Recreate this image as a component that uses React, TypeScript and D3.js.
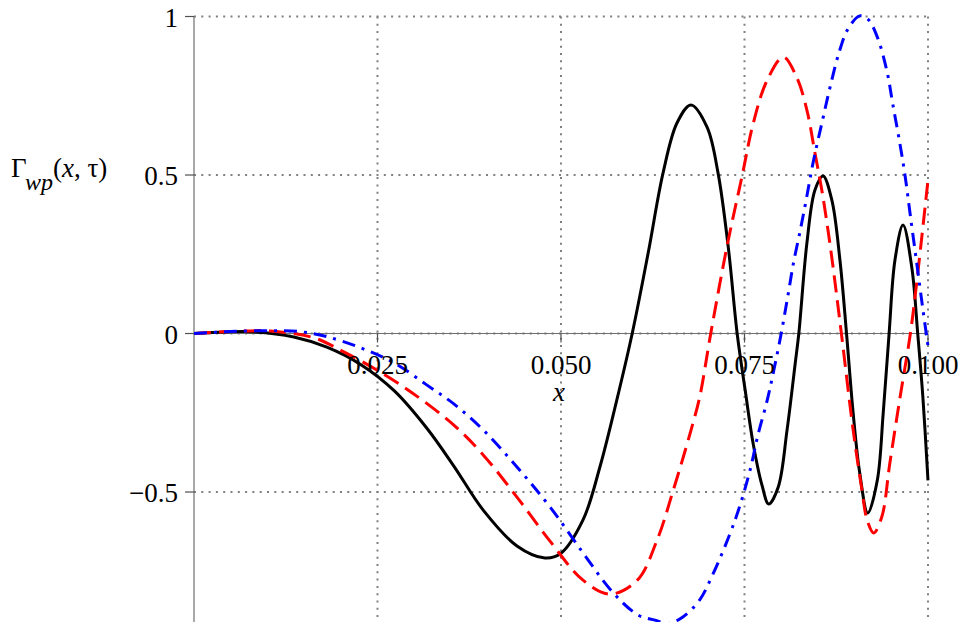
import React from 'react';
import * as d3 from 'd3';

// values
const xTicks = [0.025, 0.05, 0.075, 0.1];
const xTickLabels = ['0.025', '0.050', '0.075', '0.100'];
const yTicks = [-0.5, 0, 0.5, 1];
const yTickLabels = ['\u22120.5', '0', '0.5', '1'];

const blackX = [0, 0.0042, 0.0083, 0.0136, 0.0181, 0.0228, 0.0273, 0.0317, 0.0354, 0.0394, 0.044, 0.0478, 0.0499, 0.053, 0.0553, 0.0576, 0.0597, 0.0619, 0.0639, 0.0658, 0.0677, 0.0699, 0.0714, 0.0728, 0.074, 0.0751, 0.0762, 0.0774, 0.0783, 0.0796, 0.0808, 0.0819, 0.0824, 0.0835, 0.0846, 0.0857, 0.0869, 0.088, 0.0889, 0.0898, 0.0907, 0.0918, 0.0931, 0.0939, 0.0947, 0.0955, 0.0966, 0.0978, 0.0986, 0.0993, 0.1];
const blackY = [0, 0.005, 0.005, -0.011, -0.043, -0.099, -0.181, -0.298, -0.418, -0.557, -0.67, -0.708, -0.695, -0.588, -0.421, -0.21, 0, 0.257, 0.506, 0.664, 0.721, 0.651, 0.506, 0.27, 0, -0.18, -0.35, -0.48, -0.538, -0.484, -0.304, -0.096, 0, 0.285, 0.453, 0.497, 0.421, 0.232, 0, -0.25, -0.44, -0.566, -0.462, -0.25, 0, 0.232, 0.342, 0.207, 0, -0.2, -0.463];

const redX = [0, 0.0049, 0.0104, 0.0164, 0.0204, 0.0249, 0.0296, 0.0354, 0.0394, 0.044, 0.0485, 0.053, 0.0567, 0.0604, 0.0631, 0.0653, 0.0676, 0.0689, 0.0704, 0.0726, 0.0747, 0.0762, 0.0781, 0.0803, 0.0821, 0.0835, 0.0846, 0.0856, 0.0867, 0.0882, 0.0898, 0.091, 0.0917, 0.0926, 0.0937, 0.0948, 0.0962, 0.0976, 0.0985, 0.1];
const redY = [0, 0.006, 0.008, -0.014, -0.058, -0.115, -0.185, -0.289, -0.383, -0.516, -0.655, -0.778, -0.822, -0.778, -0.651, -0.494, -0.314, -0.2, 0, 0.273, 0.5, 0.664, 0.8, 0.872, 0.809, 0.705, 0.569, 0.443, 0.273, 0, -0.304, -0.494, -0.588, -0.629, -0.579, -0.409, -0.2, 0, 0.169, 0.484];

const blueX = [0, 0.0049, 0.0104, 0.0144, 0.0181, 0.0228, 0.0273, 0.0317, 0.0354, 0.0394, 0.044, 0.0485, 0.053, 0.057, 0.0605, 0.0628, 0.0646, 0.0666, 0.0689, 0.0707, 0.073, 0.0744, 0.0758, 0.0768, 0.0781, 0.079, 0.08, 0.0809, 0.0817, 0.0826, 0.0834, 0.0843, 0.0856, 0.0867, 0.0879, 0.0891, 0.0907, 0.0918, 0.0931, 0.0944, 0.0952, 0.0962, 0.0969, 0.0976, 0.0985, 0.0993, 0.1];
const blueY = [0, 0.006, 0.009, 0.006, -0.01, -0.046, -0.093, -0.162, -0.222, -0.304, -0.421, -0.547, -0.692, -0.815, -0.888, -0.904, -0.915, -0.894, -0.84, -0.759, -0.633, -0.541, -0.427, -0.323, -0.21, -0.115, 0, 0.118, 0.226, 0.326, 0.421, 0.534, 0.67, 0.781, 0.888, 0.961, 1.002, 0.992, 0.935, 0.828, 0.724, 0.595, 0.494, 0.371, 0.216, 0.077, -0.039];

const W = 963;
const H = 622;
const font = "'Liberation Serif', 'Times New Roman', Times, serif";

const x = d3.scaleLinear().domain([0, 0.1]).range([194, 928]);
const y = d3.scaleLinear().domain([-0.91, 1]).range([622, 16.5]);

const line = d3.line<[number, number]>()
    .x(d => x(d[0]))
    .y(d => y(d[1]))
    .curve(d3.curveCatmullRom.alpha(0.5));

const zip = (xs: number[], ys: number[]) => xs.map((v, i) => [v, ys[i]] as [number, number]);

const series = [
    { pts: zip(blackX, blackY), color: '#000000', dash: 'none' },
    { pts: zip(redX, redY), color: '#ff0000', dash: '17 8' },
    { pts: zip(blueX, blueY), color: '#0000ff', dash: '13 7 3 7' },
];

const txt = { fontFamily: font };

export default function App() {
    const x0 = x(0), x1 = x(0.1);
    const yTop = y(1), yBot = H;
    const y0 = y(0);
    return (
        <div style={{ position: 'absolute', left: 0, top: 0 }}>
            <svg width={W} height={H} style={{ display: 'block', background: '#fff', fontFamily: font }}>
                <defs>
                    <clipPath id="plot">
                        <rect x={x0} y={0} width={x1 - x0 + 2} height={H} />
                    </clipPath>
                </defs>

                {/* grid */}
                {xTicks.map(t => (
                    <line key={'gx' + t} x1={x(t)} x2={x(t)} y1={yTop} y2={yBot}
                        stroke="#808080" strokeWidth={2} strokeDasharray="2 5.3" />
                ))}
                {yTicks.map(t => (
                    <line key={'gy' + t} x1={x0} x2={x1} y1={y(t)} y2={y(t)}
                        stroke="#808080" strokeWidth={2} strokeDasharray="2 5.3" />
                ))}

                {/* axes */}
                <line x1={x0} x2={x1} y1={y0} y2={y0} stroke="#707070" strokeWidth={1.2} />
                <line x1={x0} x2={x0} y1={yTop} y2={yBot} stroke="#707070" strokeWidth={1.2} />
                {xTicks.map(t => (
                    <line key={'tx' + t} x1={x(t)} x2={x(t)} y1={y0} y2={y0 + 9} stroke="#505050" strokeWidth={1.2} />
                ))}
                {yTicks.map(t => (
                    <line key={'ty' + t} x1={x0 - 9} x2={x0} y1={y(t)} y2={y(t)} stroke="#505050" strokeWidth={1.2} />
                ))}

                {/* curves */}
                <g clipPath="url(#plot)">
                    {series.map((s, i) => (
                        <path key={i} d={line(s.pts) || ''} fill="none" stroke={s.color}
                            strokeWidth={3} strokeDasharray={s.dash} strokeLinejoin="round" />
                    ))}
                </g>

                {/* tick labels */}
                {xTicks.map((t, i) => (
                    <text key={'lx' + t} x={x(t)} y={y0 + 40} fontSize={27} textAnchor="middle" fill="#000" style={txt}>
                        {xTickLabels[i]}
                    </text>
                ))}
                {yTicks.map((t, i) => (
                    <text key={'ly' + t} x={178} y={y(t) + 10} fontSize={27} textAnchor="end" fill="#000" style={txt}>
                        {yTickLabels[i]}
                    </text>
                ))}

                {/* axis labels */}
                <text x={559} y={401} fontSize={27} fontStyle="italic" textAnchor="middle" style={txt}>x</text>
                <text x={11} y={177} fontSize={27} fill="#000" style={txt}>
                    <tspan>Γ</tspan>
                    <tspan x={25} y={190} fontSize={24} fontStyle="italic">wp</tspan>
                    <tspan x={53} y={177}>(</tspan>
                    <tspan fontStyle="italic">x</tspan>
                    <tspan>, τ)</tspan>
                </text>
            </svg>
        </div>
    );
}
